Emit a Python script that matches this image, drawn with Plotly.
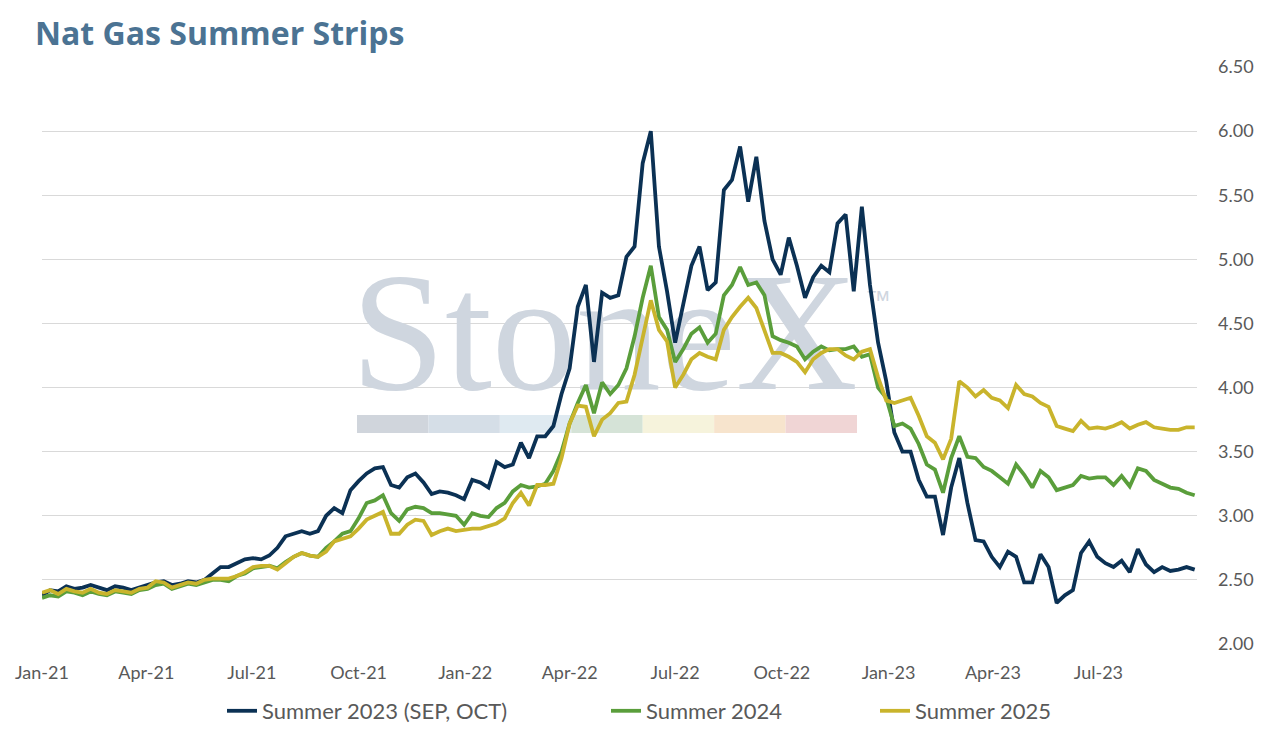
import pandas as pd
import plotly.graph_objects as go

# ---------------- data (weekly samples) ----------------
start_date = "2021-01-01"
n_weeks = 143
dates = pd.date_range(start_date, periods=n_weeks, freq="7D")

summer_2023 = [
    2.38, 2.42, 2.41, 2.45, 2.43, 2.44, 2.46, 2.44, 2.42, 2.45,
    2.44, 2.42, 2.44, 2.46, 2.48, 2.49, 2.46, 2.47, 2.49, 2.48,
    2.50, 2.55, 2.60, 2.60, 2.63, 2.66, 2.67, 2.66, 2.69, 2.75,
    2.84, 2.86, 2.88, 2.86, 2.88, 3.00, 3.06, 3.02, 3.20, 3.27,
    3.33, 3.37, 3.38, 3.24, 3.22, 3.30, 3.33, 3.26, 3.17, 3.19,
    3.18, 3.16, 3.13, 3.28, 3.26, 3.22, 3.42, 3.38, 3.40, 3.57,
    3.45, 3.62, 3.62, 3.70, 3.95, 4.15, 4.63, 4.80, 4.20, 4.74,
    4.70, 4.72, 5.02, 5.10, 5.75, 6.00, 5.10, 4.75, 4.35, 4.65,
    4.95, 5.10, 4.76, 4.82, 5.54, 5.62, 5.88, 5.45, 5.80, 5.30,
    5.00, 4.88, 5.17, 4.95, 4.70, 4.86, 4.95, 4.90, 5.28, 5.35,
    4.75, 5.41, 4.80, 4.35, 4.05, 3.65, 3.50, 3.50, 3.28, 3.15,
    3.15, 2.85, 3.22, 3.45, 3.10, 2.81, 2.80, 2.68, 2.60, 2.72,
    2.68, 2.48, 2.48, 2.70, 2.60, 2.32, 2.38, 2.42, 2.71, 2.80,
    2.68, 2.63, 2.60, 2.65, 2.56, 2.74, 2.62, 2.56, 2.60, 2.57,
    2.58, 2.60, 2.58,
]

summer_2024 = [
    2.36, 2.38, 2.37, 2.41, 2.40, 2.38, 2.41, 2.39, 2.38, 2.41,
    2.40, 2.39, 2.42, 2.43, 2.46, 2.47, 2.43, 2.45, 2.47, 2.46,
    2.48, 2.50, 2.50, 2.49, 2.53, 2.55, 2.59, 2.60, 2.61, 2.59,
    2.64, 2.68, 2.71, 2.69, 2.68, 2.75, 2.80, 2.86, 2.88, 2.98,
    3.10, 3.12, 3.16, 3.02, 2.96, 3.05, 3.07, 3.06, 3.02, 3.02,
    3.01, 3.00, 2.93, 3.02, 3.00, 2.99, 3.06, 3.10, 3.19, 3.24,
    3.22, 3.23, 3.25, 3.35, 3.50, 3.72, 3.88, 4.02, 3.80, 4.04,
    3.95, 4.02, 4.15, 4.40, 4.70, 4.95, 4.55, 4.45, 4.20, 4.30,
    4.42, 4.47, 4.35, 4.42, 4.72, 4.80, 4.94, 4.80, 4.82, 4.72,
    4.40, 4.37, 4.35, 4.32, 4.22, 4.28, 4.32, 4.29, 4.30, 4.30,
    4.32, 4.24, 4.26, 4.00, 3.92, 3.70, 3.72, 3.68, 3.56, 3.40,
    3.36, 3.18, 3.45, 3.62, 3.46, 3.45, 3.38, 3.35, 3.30, 3.25,
    3.40, 3.32, 3.22, 3.35, 3.30, 3.20, 3.22, 3.24, 3.31, 3.29,
    3.30, 3.30, 3.24, 3.31, 3.23, 3.37, 3.35, 3.28, 3.25, 3.22,
    3.21, 3.18, 3.16,
]

summer_2025 = [
    2.40, 2.42, 2.39, 2.43, 2.41, 2.40, 2.43, 2.40, 2.39, 2.42,
    2.41, 2.40, 2.43, 2.44, 2.49, 2.48, 2.44, 2.46, 2.48, 2.47,
    2.50, 2.51, 2.51, 2.51, 2.53, 2.56, 2.60, 2.61, 2.61, 2.58,
    2.63, 2.68, 2.71, 2.69, 2.68, 2.72, 2.80, 2.82, 2.84, 2.90,
    2.97, 3.00, 3.03, 2.86, 2.86, 2.93, 2.97, 2.96, 2.85, 2.88,
    2.90, 2.88, 2.89, 2.90, 2.90, 2.92, 2.94, 2.98, 3.10, 3.18,
    3.08, 3.24, 3.24, 3.25, 3.45, 3.72, 3.86, 3.85, 3.62, 3.75,
    3.80, 3.88, 3.89, 4.10, 4.40, 4.68, 4.45, 4.36, 4.00, 4.10,
    4.22, 4.27, 4.24, 4.22, 4.45, 4.55, 4.63, 4.70, 4.62, 4.45,
    4.27, 4.27, 4.24, 4.20, 4.12, 4.22, 4.27, 4.30, 4.30, 4.25,
    4.22, 4.28, 4.30, 4.08, 3.90, 3.88, 3.90, 3.92, 3.78, 3.62,
    3.57, 3.44, 3.60, 4.05, 4.00, 3.93, 3.98, 3.92, 3.90, 3.84,
    4.02, 3.95, 3.93, 3.88, 3.85, 3.70, 3.68, 3.66, 3.74, 3.68,
    3.69, 3.68, 3.70, 3.73, 3.68, 3.71, 3.73, 3.69, 3.68, 3.67,
    3.67, 3.69, 3.69,
]

series_names = ["Summer 2023 (SEP, OCT)", "Summer 2024", "Summer 2025"]
series_values = [summer_2023, summer_2024, summer_2025]
series_colors = ["#0B3154", "#5A9E3B", "#C9B42C"]

y_ticks = [2.0, 2.5, 3.0, 3.5, 4.0, 4.5, 5.0, 5.5, 6.0, 6.5]
x_range = ["2021-01-01", "2023-09-24"]

# ---------------- geometry (page has an 8px body margin) ----------------
FONT = "Lato"
GREY = "#595959"
OFF = 8                      # browser body margin
W, H = 1271 - 2 * OFF, 734 - 2 * OFF
PLOT_L, PLOT_R, PLOT_T, PLOT_B = 42, 1197, 67, 644   # plot box in page pixels
ML, MT = PLOT_L - OFF, PLOT_T - OFF
PW, PH = PLOT_R - PLOT_L, PLOT_B - PLOT_T
MR, MB = W - ML - PW, H - MT - PH


def px_x(px):
    return (px - PLOT_L) / PW


def px_y(py):
    return (PLOT_B - py) / PH


fig = go.Figure()

# watermark (drawn first so the lines sit on top of it)
wm_color = "#cfd6df"
fig.add_trace(go.Scatter(
    x=["2022-05-01"], y=[4.32], mode="text", text=["StoneX"],
    textposition="middle center",
    textfont=dict(family="Liberation Serif", size=169, color=wm_color),
    showlegend=False, hoverinfo="skip", cliponaxis=False,
))
fig.add_trace(go.Scatter(
    x=["2022-12-23"], y=[4.66], mode="text", text=["™"],
    textposition="middle center",
    textfont=dict(family="Liberation Sans", size=26, color=wm_color),
    showlegend=False, hoverinfo="skip", cliponaxis=False,
))

legend_ids = ["legend", "legend2", "legend3"]
for name, vals, col, lg in zip(series_names, series_values, series_colors, legend_ids):
    fig.add_trace(go.Scatter(
        x=dates, y=vals, mode="lines", name=name,
        line=dict(color=col, width=3.8),
        legend=lg,
    ))

# coloured bar of the watermark logo
bar_colors = ["#d0d5dc", "#d5dee7", "#dfeaf1", "#d5e3d7", "#f6f3dc", "#f7e4cd", "#f0d5d5"]
seg = 500 / 7
shapes = []
for i, c in enumerate(bar_colors):
    shapes.append(dict(
        type="rect", xref="paper", yref="paper",
        x0=px_x(357 + i * seg), x1=px_x(357 + (i + 1) * seg),
        y0=px_y(433), y1=px_y(415),
        fillcolor=c, line=dict(width=0), layer="below",
    ))

legend_common = dict(
    orientation="h", yanchor="middle", y=px_y(711), xanchor="left",
    font=dict(family=FONT, size=22, color=GREY), bgcolor="rgba(0,0,0,0)",
    entrywidthmode="pixels",
)

fig.update_layout(
    width=W, height=H,
    margin=dict(l=ML, r=MR, t=MT, b=MB, autoexpand=False),
    paper_bgcolor="white", plot_bgcolor="white",
    font=dict(family=FONT, color=GREY),
    shapes=shapes,
    title=dict(
        text="<b>Nat Gas Summer Strips</b>", xref="container", yref="container",
        x=(35 - OFF) / W, y=1 - (34 - OFF) / H, xanchor="left", yanchor="middle",
        font=dict(family="Open Sans", size=32, color="#4B7393"),
    ),
    legend=dict(x=px_x(222), entrywidth=280, **legend_common),
    legend2=dict(x=px_x(606), entrywidth=170, **legend_common),
    legend3=dict(x=px_x(875), entrywidth=170, **legend_common),
    xaxis=dict(
        type="date", range=x_range, dtick="M3", tick0="2021-01-01",
        tickformat="%b-%y", showgrid=False, zeroline=False, showline=False,
        ticks="", tickfont=dict(family=FONT, size=18, color=GREY),
        ticklabelstandoff=16, automargin=False,
    ),
    yaxis=dict(
        side="right", range=[2.0, 6.5], tickvals=y_ticks, tickformat=".2f",
        showgrid=True, gridcolor="#d9d9d9", gridwidth=1.4, zeroline=False,
        showline=False, ticks="", tickfont=dict(family=FONT, size=18, color=GREY),
        ticklabelstandoff=20, automargin=False,
    ),
    showlegend=True,
)

fig.write_html("out.html")
